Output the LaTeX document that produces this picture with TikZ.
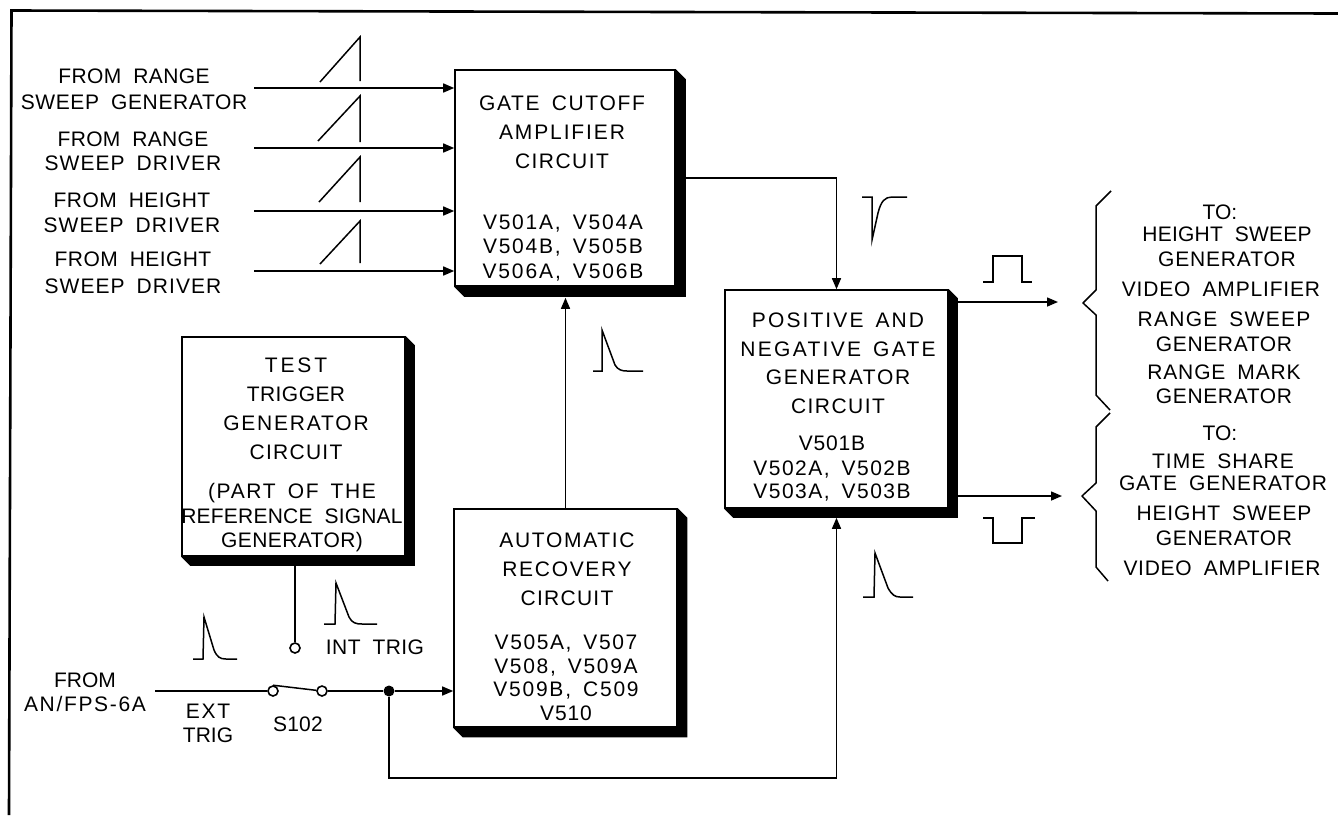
\documentclass[tikz,border=0pt]{standalone}
\usepackage{fontspec}
\setmainfont{Liberation Sans}
\usetikzlibrary{arrows.meta,calc}
\newcommand{\ls}[2]{{\addfontfeature{LetterSpace=#1}\spaceskip=12pt\relax #2}}
\tikzset{
  lbl/.style={inner sep=0pt,align=center,text=black,font=\fontsize{21}{24.5}\selectfont},
  titl/.style={inner sep=0pt,align=center,text=black,font=\fontsize{21}{29}\selectfont},
  wire/.style={draw=black,line width=1.5pt},
  arr/.style={wire,-{Triangle[length=11pt,width=9pt]}},
  wave/.style={draw=black,line width=1.5pt,line join=miter},
  brace/.style={draw=black,line width=1.5pt,line join=round},
  term/.style={circle,draw=black,fill=white,line width=1.6pt,minimum size=10pt,inner sep=0pt},
  dot/.style={circle,fill=black,minimum size=11pt,inner sep=0pt},
  blk/.style={draw=black,fill=white,line width=1.6pt,inner sep=0pt},
}
\newcommand{\shadowed}[6]{% name, cx, cy, w, h, depth
  \node[blk,minimum width=#4pt,minimum height=#5pt] (#1) at (#2,#3) {};
  \fill[black] (#1.north east) -- ($(#1.north east)+(#6,#6)$) -- ($(#1.south east)+(#6,#6)$)
     -- ($(#1.south west)+(#6,#6)$) -- (#1.south west) -- (#1.south east) -- cycle;
}
\begin{document}
\begin{tikzpicture}[x=1pt,y=-1pt]
\useasboundingbox (0,0) rectangle (1338,815);
\fill[white] (0,0) rectangle (1338,815);
% frame (open at the right and at the bottom)
\coordinate (frameTR) at (1338,13.5);
\coordinate (frameTL) at (11.5,10.5);
\coordinate (frameBL) at (9,815);
\draw[line width=2.6pt,line join=miter] (frameTR) -- (frameTL) -- (frameBL);

% blocks
\shadowed{gate}{565}{178}{220}{216}{10}
\shadowed{test}{293.5}{446.5}{223}{219}{9}
\shadowed{auto}{565.5}{618}{223}{218}{9.5}
\shadowed{pos}{836.5}{399}{223}{218}{9}

% block text
\node[titl] (gateT) at (562,132) {\ls{8}{GATE CUTOFF}\\\ls{9}{AMPLIFIER}\\\ls{7}{CIRCUIT}};
\node[lbl] (gateV) at (563,248) {\ls{8.5}{V501A, V504A}\\\ls{8.5}{V504B, V505B}\\\ls{9}{V506A, V506B}};
\node[titl] (testT) at (296,409) {\ls{14}{TEST}\\\ls{2}{TRIGGER}\\\ls{8.5}{GENERATOR}\\\ls{6}{CIRCUIT}};
\node[lbl] (testP) at (292,518) {\ls{8}{(PART OF THE}\\\ls{1}{REFERENCE SIGNAL}\\\ls{2}{GENERATOR)}};
\node[titl] (autoT) at (567,569) {\ls{8}{AUTOMATIC}\\\ls{8}{RECOVERY}\\\ls{6}{CIRCUIT}};
\node[lbl,font=\fontsize{21}{23.5}\selectfont] (autoV) at (566,678) {\ls{7.5}{V505A, V507}\\\ls{8}{V508, V509A}\\\ls{8.5}{V509B, C509}\\\ls{4}{V510}};
\node[titl,font=\fontsize{21}{28.5}\selectfont] (posT) at (838,363.5) {\ls{10}{POSITIVE AND}\\\ls{11}{NEGATIVE GATE}\\\ls{8}{GENERATOR}\\\ls{7}{CIRCUIT}};
\node[lbl,font=\fontsize{21}{24}\selectfont] (posV) at (832,469) {\ls{4}{V501B}\\\ls{7}{V502A, V502B}\\\ls{7}{V503A, V503B}};

% left inputs
\node[lbl,font=\fontsize{21}{26}\selectfont] (src1) at (134,89) {\ls{2}{FROM RANGE}\\\ls{3}{SWEEP GENERATOR}};
\node[lbl] (src2) at (133,151.5) {\ls{1.5}{FROM RANGE}\\\ls{5}{SWEEP DRIVER}};
\node[lbl] (src3) at (132,213) {\ls{2}{FROM HEIGHT}\\\ls{5}{SWEEP DRIVER}};
\node[lbl,font=\fontsize{21}{27}\selectfont] (src4) at (133,272.5) {\ls{2}{FROM HEIGHT}\\\ls{5}{SWEEP DRIVER}};
\coordinate (in1) at (254,88);
\coordinate (in2) at (254,148);
\coordinate (in3) at (254,211);
\coordinate (in4) at (254,271);
\draw[arr] (in1) -- (in1 -| gate.west);
\draw[arr] (in2) -- (in2 -| gate.west);
\draw[arr] (in3) -- (in3 -| gate.west);
\draw[arr] (in4) -- (in4 -| gate.west);
% ramps
\draw[wave] (320,82) -- (360,37) -- (360,81);
\draw[wave] (318,141) -- (360,96) -- (360,142);
\draw[wave] (319,202) -- (360,157) -- (360,202);
\draw[wave] (320,264) -- (360,221) -- (360,263);

% gate -> pos
\coordinate (gateOut) at (675,178);
\draw[arr] (gateOut) -| (pos.north);
\draw[wave] (862,197) -- (872,197) -- (872,240) -- (878,213) .. controls (881,201) and (885,197) .. (892,197) -- (907,197);

% auto -> gate
\draw[arr,shorten >=11pt] (auto.north) -- (auto.north |- gate.south);
\draw[wave] (593,371) -- (602,371) -- (602,330) -- (615,365) .. controls (618,370) and (622,371) .. (627,371) -- (643,371);

% pos outputs
\coordinate (posOutA) at (948,302);
\coordinate (endA) at (1058,302);
\coordinate (posOutB) at (948,496);
\coordinate (endB) at (1062,496);
\draw[arr] (posOutA) -- (endA);
\draw[arr] (posOutB) -- (endB);
\draw[wave] (983,282) -- (993,282) -- (993,256) -- (1022,256) -- (1022,282) -- (1032,282);
\draw[wave] (983,518) -- (993,518) -- (993,543) -- (1022,543) -- (1022,518) -- (1035,518);

% braces
\draw[brace] (1111,191) -- (1096,206) -- (1096,290) -- (1083,303) -- (1096,315) -- (1096,395) -- (1110,410);
\draw[brace] (1110,413) -- (1096,427) -- (1096,483) -- (1082,496) -- (1096,511) -- (1096,567) -- (1108,581);

% right labels
\node[lbl] (to1) at (1220,212) {\ls{0}{TO:}};
\node[lbl] (d1) at (1227,247) {\ls{1}{HEIGHT SWEEP}\\\ls{4}{GENERATOR}};
\node[lbl] (d2) at (1221,289) {\ls{4}{VIDEO AMPLIFIER}};
\node[lbl] (d3) at (1224,332) {\ls{6}{RANGE SWEEP}\\\ls{3}{GENERATOR}};
\node[lbl] (d4) at (1224,384.5) {\ls{4}{RANGE MARK}\\\ls{3}{GENERATOR}};
\node[lbl] (to2) at (1220,433) {\ls{0}{TO:}};
\node[lbl,font=\fontsize{21}{22}\selectfont] (d5) at (1223,472) {\ls{5}{TIME SHARE}\\\ls{4}{GATE GENERATOR}};
\node[lbl] (d6) at (1224,526) {\ls{4}{HEIGHT SWEEP}\\\ls{3}{GENERATOR}};
\node[lbl] (d7) at (1222,568) {\ls{3.5}{VIDEO AMPLIFIER}};

% trigger path
\node[lbl] (fromLbl) at (85,692.5) {\ls{0}{FROM}\\\ls{8}{AN/FPS-6A}};
\node[lbl] (extLbl) at (208,723.5) {\ls{8}{EXT}\\\ls{0}{TRIG}};
\node[lbl] (swLbl) at (298,724) {\ls{1}{S102}};
\node[lbl] (intLbl) at (375,647) {\ls{2}{INT TRIG}};
\coordinate (extIn) at (155,691);
\node[term] (sw1) at (273,691) {};
\node[term] (sw2) at (322,691) {};
\node[term] (intT) at (295,648) {};
\node[dot] (junc) at (389,691) {};
\coordinate (fb1) at (389,778);
\draw[wire] (extIn) -- (sw1);
\draw[wire] (sw1.north) -- (sw2);
\draw[wire] (sw2) -- (junc);
\draw[arr] (junc) -- (junc -| auto.west);
\draw[wire] (test.south -| intT) -- (intT);
\draw[arr,shorten >=9pt] (junc) -- (fb1) -| (pos.south);
\draw[wave] (193,659) -- (203,659) -- (204,617) -- (214,650) .. controls (217,657) and (220,659) .. (226,659) -- (237,659);
\draw[wave] (324,624) -- (335,624) -- (336,583) -- (349,617) .. controls (352,623) and (356,624) .. (362,624) -- (377,624);
\draw[wave] (863,597) -- (874,597) -- (875,553) -- (888,588) .. controls (892,595) and (895,597) .. (900,597) -- (913,597);
\end{tikzpicture}
\end{document}
